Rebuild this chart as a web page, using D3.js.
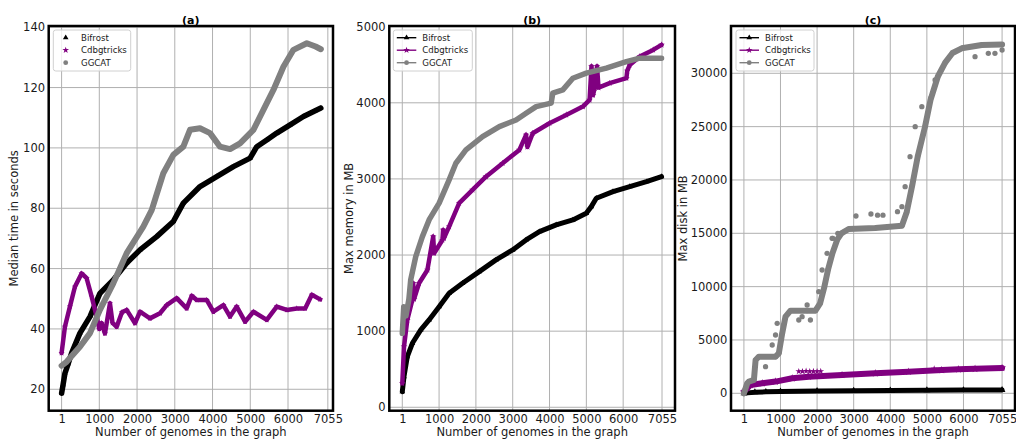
<!DOCTYPE html>
<html><head><meta charset="utf-8">
<script src="https://cdn.jsdelivr.net/npm/d3@7"></script>
<style>body{margin:0;background:#fff}svg{display:block;font-family:"DejaVu Sans",sans-serif}</style>
</head><body><svg id="chart" width="1016" height="439"></svg>
<script>
// ---------- data ----------
const seriesNames = ["Bifrost", "Cdbgtricks", "GGCAT"];
const xTicks = [1, 1000, 2000, 3000, 4000, 5000, 6000, 7055];
const timeTicks = [20, 40, 60, 80, 100, 120, 140];
const memTicks = [0, 1000, 2000, 3000, 4000, 5000];
const diskTicks = [0, 5000, 10000, 15000, 20000, 25000, 30000];

// (a) median time in seconds  [genomes, seconds]
const timeBifrost = [[1,18.7],[40,21.5],[89,25.3],[176,28.5],[266,32],[487,38.6],[753,44.1],[1016,51.8],[1370,56.2],[1725,61.8],[2078,66.2],[2520,70.6],[2961,75.6],[3226,81.7],[3668,87.2],[4110,90.5],[4553,93.8],[4995,96.6],[5172,100.4],[5437,102.6],[5702,104.9],[6055,107.6],[6409,110.4],[6720,112.3],[6870,113.2]];
const timeCdbgtricks = [[1,32],[89,40.7],[221,47.4],[354,54],[531,58.4],[664,56.8],[797,50.7],[929,44.1],[1000,40],[1062,41.9],[1150,38.5],[1282,48.5],[1350,42],[1460,40.7],[1600,45.5],[1725,46.3],[1946,41.9],[2078,45.7],[2343,43.5],[2609,45.2],[2785,47.9],[3050,50.2],[3314,46.8],[3450,51],[3580,49.6],[3845,49.6],[4022,45.7],[4287,47.9],[4464,44.1],[4641,47.4],[4862,42.4],[5083,45.7],[5437,43],[5702,47.4],[5967,46.3],[6232,46.8],[6454,46.8],[6631,51.3],[6851,49.8]];
const timeGgcat = [[1,27.8],[133,29.1],[487,34.1],[753,38.6],[1016,46.3],[1370,55.1],[1725,65.1],[2166,73.9],[2388,79.4],[2696,91.6],[2961,97.7],[3226,100.4],[3403,106],[3668,106.5],[3934,104.9],[4199,100.4],[4464,99.6],[4729,101.5],[5083,106],[5348,112.6],[5613,119.2],[5878,126.9],[6144,132.5],[6499,134.7],[6730,133.6],[6870,132.7]];

// (b) max memory in MB
const memBifrost = [[1,205],[47,402],[137,665],[274,841],[502,1016],[728,1147],[1001,1322],[1273,1498],[1636,1629],[2091,1782],[2545,1936],[2998,2067],[3363,2198],[3726,2307],[4180,2396],[4633,2461],[4998,2549],[5134,2636],[5270,2746],[5724,2833],[6178,2899],[6633,2964],[7042,3030]];
const memCdbgtricks = [[1,315],[47,796],[137,1147],[274,1410],[296,1630],[320,1420],[456,1629],[683,1804],[840,2242],[865,2024],[1091,2198],[1110,2330],[1130,2220],[1273,2373],[1546,2681],[1909,2855],[2273,3030],[2726,3206],[3181,3381],[3363,3578],[3400,3420],[3544,3600],[3998,3732],[4453,3841],[4906,3950],[5088,4038],[5140,4480],[5180,4100],[5224,4192],[5290,4480],[5330,4200],[5633,4258],[6088,4323],[6110,4420],[6178,4498],[6451,4607],[6814,4695],[7042,4761]];
const memGgcat = [[1,972],[40,1320],[100,1200],[180,1420],[229,1673],[366,1979],[546,2242],[728,2461],[1001,2681],[1273,2987],[1456,3206],[1729,3381],[2181,3556],[2636,3687],[3091,3775],[3363,3863],[3636,3950],[4044,3995],[4088,4126],[4361,4170],[4633,4323],[4998,4389],[5543,4455],[6088,4541],[6451,4586],[7042,4586]];

// (c) max disk in MB
const diskBifrost = [[1,0],[100,40],[300,100],[600,140],[1000,170],[2000,220],[3000,250],[4000,270],[5000,290],[6000,300],[7055,310]];
const diskCdbgtricks = [[1,150],[183,780],[501,938],[865,1100],[1320,1406],[1772,1560],[2682,1720],[3590,1875],[4498,2025],[5407,2184],[5860,2250],[6316,2300],[7055,2380]];
const diskCdbgtricksOutliers = [[1500,2050],[1600,2050],[1700,2080],[1800,2050],[1900,2060],[2000,2050],[2100,2070],[5200,2300]];
const diskGgcat = [[1,0],[92,938],[137,1100],[274,1250],[320,3122],[410,3434],[865,3434],[955,3750],[1047,5625],[1137,7181],[1273,7744],[1728,7744],[1955,7750],[2083,8437],[2200,10000],[2300,11600],[2420,13125],[2550,14400],[2665,15000],[2863,15400],[3590,15500],[4318,15700],[4450,17000],[4600,19500],[4750,22200],[4950,25000],[5100,27500],[5300,29700],[5500,31000],[5700,31900],[5952,32344],[6497,32653],[7055,32700]];
const diskGgcatOutliers = [[592,2494],[774,4528],[865,5466],[910,6563],[1500,6872],[1591,7181],[1728,8278],[1818,6872],[2046,9525],[2137,11559],[2273,13125],[2410,14531],[2430,14531],[2567,15000],[3063,16622],[3472,16809],[3653,16700],[3800,16700],[4197,17025],[4318,17494],[4406,19370],[4540,22184],[4681,24994],[4862,26873],[5110,27700],[5224,29372],[6316,31556],[6679,31875],[6860,31875],[7055,32184]];

// ---------- style ----------
const colors = {Bifrost: "#000000", Cdbgtricks: "#800080", GGCAT: "#808080"};
const symbols = {Bifrost: d3.symbolTriangle, Cdbgtricks: d3.symbolStar, GGCAT: d3.symbolCircle};

const panels = [
  {title: "(a)", ylabel: "Median time in seconds", left: 48.7, right: 333, xDomain: [-341, 7192], yDomain: [12.9, 140.4], yTicks: timeTicks,
   series: [["Bifrost", timeBifrost, 5.5], ["Cdbgtricks", timeCdbgtricks, 4.5], ["GGCAT", timeGgcat, 6]], outliers: [],
   legend: {x: 53.3, w: 77.4, lines: false}, ylabX: 18, markSize: 12},
  {title: "(b)", ylabel: "Max memory in MB", left: 389.3, right: 675, xDomain: [-352, 7408], yDomain: [-45, 5009], yTicks: memTicks,
   series: [["Bifrost", memBifrost, 5], ["Cdbgtricks", memCdbgtricks, 4.5], ["GGCAT", memGgcat, 5.5]], outliers: [],
   legend: {x: 393.3, w: 79, lines: true}, ylabX: 352.5, markSize: 14},
  {title: "(c)", ylabel: "Max disk in MB", left: 731, right: 1015, xDomain: [-352, 7408], yDomain: [-1631, 34434], yTicks: diskTicks,
   series: [["Bifrost", diskBifrost, 5], ["Cdbgtricks", diskCdbgtricks, 6], ["GGCAT", diskGgcat, 6]],
   outliers: [["Cdbgtricks", diskCdbgtricksOutliers], ["GGCAT", diskGgcatOutliers]],
   legend: {x: 736, w: 78, lines: true}, ylabX: 687, markSize: 20}
];
const plotTop = 26, plotBottom = 410.7;

const svg = d3.select("#chart");

panels.forEach((p, pi) => {
  const x = d3.scaleLinear().domain(p.xDomain).range([p.left, p.right]);
  const y = d3.scaleLinear().domain(p.yDomain).range([plotBottom, plotTop]);
  const g = svg.append("g");

  const clipId = "clip" + pi;
  svg.append("clipPath").attr("id", clipId).append("rect")
    .attr("x", p.left).attr("y", plotTop).attr("width", p.right - p.left).attr("height", plotBottom - plotTop);

  // grid
  g.append("g").selectAll("line").data(xTicks).join("line")
    .attr("x1", d => x(d)).attr("x2", d => x(d)).attr("y1", plotTop).attr("y2", plotBottom)
    .attr("stroke", "#b0b0b0").attr("stroke-width", 1);
  g.append("g").selectAll("line").data(p.yTicks).join("line")
    .attr("y1", d => y(d)).attr("y2", d => y(d)).attr("x1", p.left).attr("x2", p.right)
    .attr("stroke", "#b0b0b0").attr("stroke-width", 1);

  // axes
  const ax = g.append("g").attr("transform", `translate(0,${plotBottom})`)
    .call(d3.axisBottom(x).tickValues(xTicks).tickFormat(d3.format("d")).tickSize(0).tickPadding(4.5));
  const ay = g.append("g").attr("transform", `translate(${p.left},0)`)
    .call(d3.axisLeft(y).tickValues(p.yTicks).tickFormat(d3.format("d")).tickSize(0).tickPadding(3.7));
  [ax, ay].forEach(a => {
    a.select(".domain").remove();
    a.selectAll("text").attr("font-size", "11.5px").attr("fill", "#1a1a1a").attr("font-family", "DejaVu Sans");
  });

  // data
  const dg = g.append("g").attr("clip-path", `url(#${clipId})`);
  const line = d3.line().x(d => x(d[0])).y(d => y(d[1]));
  p.series.forEach(([name, data, w]) => {
    dg.append("path").datum(data).attr("d", line).attr("fill", "none")
      .attr("stroke", colors[name]).attr("stroke-width", w)
      .attr("stroke-linejoin", "round").attr("stroke-linecap", "round");
    dg.append("g").selectAll("path").data(data).join("path")
      .attr("transform", d => `translate(${x(d[0])},${y(d[1])})`)
      .attr("d", d3.symbol().type(symbols[name]).size(p.markSize))
      .attr("fill", colors[name]);
    const out = p.outliers.find(o => o[0] === name);
    if (out) {
      dg.append("g").selectAll("path").data(out[1]).join("path")
        .attr("transform", d => `translate(${x(d[0])},${y(d[1])})`)
        .attr("d", d3.symbol().type(symbols[name]).size(name === "GGCAT" ? 22 : 14))
        .attr("fill", colors[name]);
    }
  });

  // frame
  g.append("rect").attr("x", p.left).attr("y", plotTop).attr("width", p.right - p.left).attr("height", plotBottom - plotTop)
    .attr("fill", "none").attr("stroke", "#000").attr("stroke-width", 2.5);

  // title
  g.append("text").attr("x", (p.left + p.right) / 2).attr("y", 23.5).attr("text-anchor", "middle")
    .attr("font-size", "11px").attr("font-weight", "bold").text(p.title);
  // x label
  g.append("text").attr("x", (p.left + p.right) / 2).attr("y", 436).attr("text-anchor", "middle")
    .attr("font-size", "11.5px").attr("fill", "#1a1a1a").text("Number of genomes in the graph");
  // y label
  g.append("text").attr("transform", `translate(${p.ylabX},${(plotTop + plotBottom) / 2}) rotate(-90)`)
    .attr("text-anchor", "middle").attr("font-size", "11.5px").attr("fill", "#1a1a1a").text(p.ylabel);

  // legend
  const lg = g.append("g");
  lg.append("rect").attr("x", p.legend.x).attr("y", 30).attr("width", p.legend.w).attr("height", 41)
    .attr("rx", 2.5).attr("fill", "#fff").attr("fill-opacity", 0.8).attr("stroke", "#d0d0d0").attr("stroke-width", 1);
  seriesNames.forEach((name, i) => {
    const ry = 37.7 + i * 12.5;
    let mx, tx;
    if (p.legend.lines) {
      const lx0 = p.legend.x + 3.5, lx1 = p.legend.x + 23;
      lg.append("line").attr("x1", lx0).attr("x2", lx1).attr("y1", ry).attr("y2", ry)
        .attr("stroke", colors[name]).attr("stroke-width", 1.4);
      mx = (lx0 + lx1) / 2; tx = p.legend.x + 29;
    } else {
      mx = p.legend.x + 12.4; tx = p.legend.x + 27.7;
    }
    lg.append("path").attr("transform", `translate(${mx},${ry})`)
      .attr("d", d3.symbol().type(symbols[name]).size(name === "GGCAT" ? 18 : 14)).attr("fill", colors[name]);
    lg.append("text").attr("x", tx).attr("y", ry).attr("dy", "0.35em")
      .attr("font-size", "8.6px").attr("fill", "#1a1a1a").text(name);
  });
});
</script>
</body></html>
